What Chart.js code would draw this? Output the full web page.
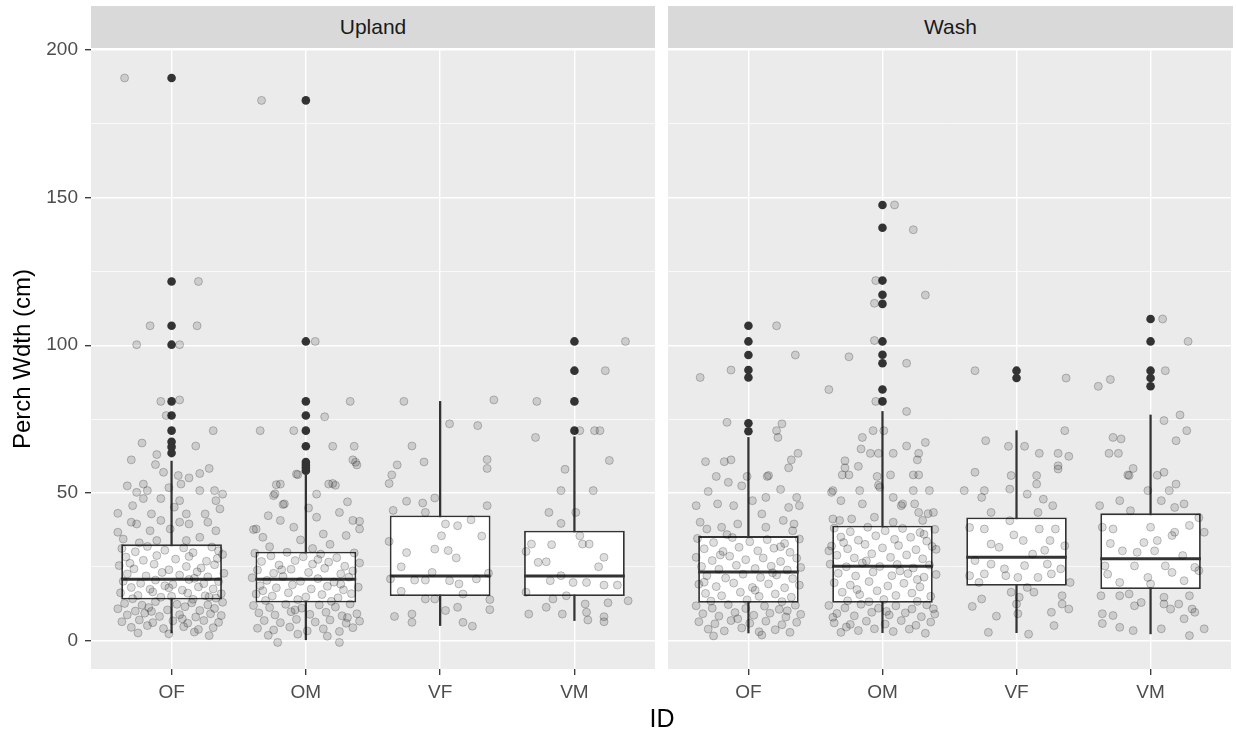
<!DOCTYPE html>
<html>
<head>
<meta charset="utf-8">
<script src="https://cdn.jsdelivr.net/npm/chart.js@4.4.1/dist/chart.umd.min.js"></script>
<style>
  body { margin: 0; background: #fff; width: 1236px; height: 736px; position: relative; overflow: hidden;
         font-family: "Liberation Sans", Arial, sans-serif; }
  .strip { position: absolute; top: 6px; height: 42px; background: #d9d9d9; color: #1a1a1a; font-size: 21px;
           display: flex; align-items: center; justify-content: center; }
  canvas { position: absolute; top: 0; }
  #xtitle { position: absolute; left: 91px; width: 1142px; top: 706px; text-align: center; font-size: 25px;
            line-height: 1; color: #000; }
</style>
</head>
<body>
<div class="strip" style="left:91px;width:564px">Upland</div>
<div class="strip" style="left:668px;width:565px">Wash</div>
<canvas id="upland" width="660" height="736" style="left:0"></canvas>
<canvas id="wash" width="576" height="736" style="left:660px"></canvas>
<div id="xtitle">ID</div>

<script>
const categories = ["OF", "OM", "VF", "VM"];
const yTicks = [0, 25, 50, 75, 100, 125, 150, 175, 200];
const yLabels = [0, 50, 100, 150, 200];

// box stats per category
const uplandLow = [2.6, 0.3, 5.1, 6.8];
const uplandQ1 = [13.9, 12.9, 15.1, 15.1];
const uplandMedian = [20.8, 20.8, 21.9, 21.9];
const uplandQ3 = [32.6, 30.1, 42.4, 37.2];
const uplandHigh = [60.8, 56.0, 81.0, 69.0];

const washLow = [2.6, 2.7, 2.7, 2.3];
const washQ1 = [12.8, 12.8, 18.6, 17.5];
const washMedian = [23.2, 25.2, 28.2, 27.7];
const washQ3 = [35.4, 38.9, 41.7, 43.1];
const washHigh = [68.8, 77.6, 71.1, 76.4];

const uplandOutliers = [
  [190.5, 121.6, 106.6, 100.2, 81.0, 76.2, 71.1, 67.3, 65.6, 63.5],
  [182.9, 101.3, 81.0, 76.2, 71.1, 65.8, 60.5, 59.5, 58.5, 57.5],
  [],
  [101.3, 91.4, 81.0, 71.1]
];
const washOutliers = [
  [106.6, 101.3, 96.7, 91.6, 89.1, 73.6, 70.9],
  [147.5, 139.8, 121.9, 117.1, 114.0, 101.3, 96.8, 93.9, 85.0, 81.0],
  [91.4, 88.9],
  [108.9, 101.3, 91.4, 88.9, 86.1]
];

// jittered raw points: [horizontal jitter, value]
const uplandOF = [
  [-0.35,190.5],[0.20,121.6],[-0.16,106.6],[0.19,106.6],[-0.26,100.2],[0.06,100.2],[-0.08,81.0],[0.06,81.5],
  [-0.04,76.2],[0.31,71.1],[-0.22,66.9],[0.18,65.9],[-0.11,63.0],[-0.30,61.2],
  [-0.06,57.0],[0.05,55.9],[-0.21,53.0],[0.13,55.1],[0.21,56.6],[-0.26,50.2],[-0.18,50.8],[0.07,53.0],[0.21,50.8],
  [0.32,50.8],[0.38,49.6],[-0.29,45.7],[-0.21,48.1],[-0.08,48.1],[0.06,47.4],[0.33,47.4],[-0.40,43.1],[-0.15,42.9],
  [-0.08,40.7],[0.11,42.9],[0.25,42.9],[-0.26,39.5],[-0.30,40.1],[0.06,40.1],[0.13,39.5],[0.27,40.1],[-0.40,36.7],
  [-0.16,37.2],[-0.01,37.8],[0.21,35.0],[0.33,37.2],[-0.36,34.4],[-0.11,33.9],[0.11,33.9],[0.02,45.2],[-0.33,52.4],
  [0.28,58.3],[-0.12,59.6],[0.36,44.6],[-0.02,51.8],
  [-0.37,31.2],[-0.27,30.1],[-0.18,31.9],[-0.05,30.6],[0.09,31.4],[0.16,29.8],[0.30,31.7],[0.38,29.2],
  [-0.34,28.3],[-0.21,27.2],[-0.11,28.8],[0.03,27.6],[0.13,28.5],[0.26,26.9],[0.34,27.8],
  [-0.39,25.4],[-0.28,24.3],[-0.13,25.9],[-0.02,24.0],[0.11,25.1],[0.22,24.6],[0.32,25.7],
  [-0.33,22.6],[-0.19,21.9],[-0.07,23.1],[0.06,22.2],[0.19,23.3],[0.27,21.6],[0.39,22.8],
  [-0.36,20.1],[-0.23,19.4],[-0.12,20.5],[0.01,19.0],[0.13,20.7],[0.24,19.3],[0.35,20.0],
  [-0.30,18.0],[-0.16,17.4],[-0.05,18.6],[0.08,17.1],[0.20,18.2],[0.31,17.5],
  [-0.38,16.2],[-0.25,15.3],[-0.14,16.5],[0.00,15.0],[0.12,16.1],[0.25,15.2],[0.37,15.9],
  [-0.29,14.2],[-0.08,14.7],[0.16,14.0],[0.33,14.4],
  [-0.35,12.6],[-0.22,12.0],[-0.12,13.2],[0.04,12.3],[0.15,12.8],[0.27,12.1],[0.38,13.0],
  [-0.40,10.8],[-0.27,10.0],[-0.17,11.2],[-0.03,10.4],[0.10,11.5],[0.21,10.2],[0.32,10.9],
  [-0.33,8.7],[-0.20,9.3],[-0.09,8.2],[0.06,8.8],[0.18,8.0],[0.29,9.1],[0.37,8.5],
  [-0.37,6.4],[-0.24,7.0],[-0.14,6.1],[0.01,6.7],[0.12,5.9],[0.24,6.8],[0.35,6.2],
  [-0.30,4.5],[-0.18,5.1],[-0.06,4.1],[0.09,4.7],[0.20,3.8],[0.31,4.4],
  [-0.25,2.6],[-0.02,2.3],[0.17,2.9],[0.28,1.7],
  [-0.31,26.2],[0.17,21.1],[-0.02,17.9],[0.28,14.8],[-0.15,9.9],[0.35,30.4],[-0.24,33.1],[0.08,7.4]
];
const uplandOM = [
  [-0.33,182.9],[0.07,101.3],[0.33,81.0],[0.14,75.8],[-0.34,71.1],[-0.09,71.1],[0.20,65.8],[0.36,65.8],
  [0.35,61.2],[0.38,59.5],[-0.06,56.2],
  [-0.19,53.0],[-0.07,56.4],[0.17,53.0],[0.22,52.6],[-0.24,49.1],[-0.16,46.3],[0.08,49.6],[0.25,43.4],
  [-0.37,37.8],[-0.32,35.0],[-0.19,40.7],[-0.09,38.4],[0.13,36.1],[0.35,40.7],[0.40,37.8],[0.30,35.6],
  [0.08,41.8],[-0.23,49.7],[0.37,60.4],[-0.22,52.8],[0.20,53.2],[-0.17,46.1],[0.40,40.4],[-0.39,37.6],
  [0.02,44.9],[-0.28,42.3],[0.31,47.0],[-0.04,34.1],[0.18,32.6],
  [-0.38,29.6],[-0.26,28.7],[-0.14,29.9],[-0.02,28.4],[0.11,29.3],[0.23,28.1],[0.36,29.7],
  [-0.33,26.8],[-0.20,25.6],[-0.08,27.1],[0.05,25.9],[0.17,26.6],[0.29,25.2],[0.40,26.3],
  [-0.36,23.9],[-0.24,22.8],[-0.11,24.2],[0.02,23.1],[0.14,24.5],[0.26,22.6],[0.35,23.6],
  [-0.40,21.3],[-0.29,20.4],[-0.17,21.7],[-0.04,20.1],[0.09,21.0],[0.21,19.8],[0.32,21.5],
  [-0.34,18.6],[-0.22,17.9],[-0.10,18.9],[0.04,17.5],[0.16,18.4],[0.28,17.2],[0.39,18.1],
  [-0.37,15.8],[-0.25,15.1],[-0.13,16.2],[0.00,14.8],[0.12,15.6],[0.24,14.5],[0.34,15.9],
  [-0.30,13.6],[-0.06,13.9],[0.19,13.3],
  [-0.39,11.9],[-0.27,11.2],[-0.15,12.3],[-0.03,11.0],[0.10,12.1],[0.22,11.4],[0.33,12.4],
  [-0.35,9.4],[-0.23,8.7],[-0.11,9.8],[0.03,8.9],[0.15,9.6],[0.27,8.4],[0.38,9.1],
  [-0.31,6.8],[-0.19,6.1],[-0.07,7.2],[0.07,6.3],[0.18,7.0],[0.30,5.9],[0.40,6.6],
  [-0.36,4.2],[-0.24,3.6],[-0.12,4.6],[0.01,3.3],[0.13,4.0],[0.25,3.1],[0.35,4.4],
  [-0.28,1.8],[-0.06,2.2],[0.16,1.5],[-0.21,-0.6],[0.25,-0.6],
  [-0.18,24.0],[0.26,19.1],[-0.32,16.9],[0.09,27.5],[-0.08,10.4],[0.31,7.8],[-0.27,31.8],[0.05,31.2]
];
const uplandVF = [
  [-0.27,81.0],[0.40,81.5],[0.07,73.4],[0.28,72.8],[-0.21,65.9],[-0.32,59.5],[-0.12,60.5],[0.35,61.3],
  [0.35,58.3],[-0.36,56.1],[-0.38,53.2],[-0.25,47.2],[-0.13,46.6],[-0.04,48.3],[-0.11,43.4],[0.35,45.7],
  [0.04,39.5],[0.13,38.9],[0.23,40.9],[0.01,35.5],[0.31,35.4],[-0.25,29.8],[-0.04,31.0],[0.06,30.5],
  [0.12,28.0],[-0.29,25.0],[-0.06,23.1],[0.36,22.8],[-0.19,20.5],[-0.11,20.5],[0.07,20.3],[0.14,19.2],
  [0.27,20.9],[-0.29,16.7],[-0.11,14.1],[-0.04,14.1],[0.17,15.8],[0.37,13.9],[0.37,10.5],[0.04,10.2],
  [0.13,11.3],[-0.21,9.0],[-0.21,6.2],[0.17,6.2],[0.24,4.9],[-0.35,44.1],[-0.37,20.9],[-0.34,8.2],[-0.38,33.6]
];
const uplandVM = [
  [0.38,101.3],[0.23,91.4],[-0.28,81.0],[0.04,71.1],[0.15,71.1],[0.19,71.1],[-0.29,68.8],[0.26,61.0],[-0.07,58.0],
  [-0.10,50.8],[0.14,50.8],[-0.19,43.4],[0.01,43.4],[-0.10,39.7],[0.04,35.5],[0.11,32.7],[0.06,32.7],
  [-0.32,32.7],[-0.17,32.5],[-0.36,30.2],[0.22,28.2],[-0.27,26.5],[-0.21,26.7],[0.18,25.0],[-0.18,20.3],
  [-0.10,22.0],[-0.01,19.7],[0.09,19.7],[0.22,18.8],[0.32,18.8],[-0.36,16.4],[-0.16,14.1],[-0.06,15.2],
  [0.25,12.8],[0.40,13.5],[0.08,12.4],[-0.34,9.0],[-0.21,11.3],[-0.09,9.0],[0.09,9.6],[0.10,7.0],
  [0.22,8.1],[0.22,6.4]
];
const washOF = [
  [0.21,106.6],[0.35,96.7],[-0.13,91.6],[-0.36,89.1],[-0.16,73.9],[0.25,73.4],[0.21,71.1],[0.22,68.8],
  [0.37,63.4],[0.32,61.2],[0.30,58.5],[-0.32,60.6],[-0.18,60.6],[-0.13,61.2],[-0.24,55.6],[-0.01,55.6],[0.14,55.6],
  [-0.15,53.6],[0.15,55.9],[-0.39,45.7],[-0.23,46.3],[-0.11,45.7],[0.03,47.4],[0.13,48.5],[0.30,45.1],
  [0.36,48.5],[0.38,45.7],[0.10,42.9],[-0.36,40.1],[-0.31,37.8],[-0.20,38.4],[-0.08,39.5],[0.13,38.4],
  [0.26,40.7],[0.34,39.5],[0.33,37.2],[-0.30,50.5],[0.24,51.2],[-0.05,52.4],
  [-0.38,34.6],[-0.26,33.2],[-0.12,34.9],[0.01,33.5],[0.14,34.2],[0.27,32.9],[0.38,34.4],
  [-0.33,31.1],[-0.19,30.2],[-0.07,31.6],[0.07,30.4],[0.19,31.3],[0.31,29.9],
  [-0.39,28.2],[-0.27,27.1],[-0.14,28.6],[-0.02,27.4],[0.11,28.0],[0.24,26.8],[0.36,27.9],
  [-0.35,25.1],[-0.22,24.2],[-0.09,25.5],[0.05,24.4],[0.17,25.2],[0.29,23.9],[0.39,24.8],
  [-0.31,22.0],[-0.17,21.2],[-0.04,22.5],[0.09,21.4],[0.21,22.2],[0.33,21.0],
  [-0.37,19.1],[-0.24,18.3],[-0.11,19.5],[0.03,18.0],[0.15,19.2],[0.27,17.9],[0.38,18.8],
  [-0.32,16.0],[-0.20,15.2],[-0.06,16.4],[0.08,15.0],[0.20,15.8],[0.32,14.7],
  [-0.28,13.4],[-0.01,13.8],[0.25,13.2],
  [-0.39,11.8],[-0.27,11.0],[-0.15,12.2],[-0.02,10.9],[0.12,11.7],[0.23,10.6],[0.35,12.0],
  [-0.34,9.1],[-0.22,8.3],[-0.10,9.5],[0.04,8.6],[0.16,9.3],[0.28,8.0],[0.39,8.9],
  [-0.37,6.4],[-0.25,5.7],[-0.13,6.8],[0.01,5.9],[0.13,6.6],[0.25,5.4],[0.36,6.2],
  [-0.30,3.9],[-0.18,3.3],[-0.05,4.3],[0.08,3.0],[0.20,3.7],[0.31,2.8],[-0.26,1.6],[0.10,1.9],
  [-0.21,29.0],[0.18,23.0],[-0.33,19.8],[0.05,17.1],[-0.08,7.4],[0.29,10.1],[-0.16,35.9],[0.24,31.8]
];
const washOM = [
  [0.09,147.5],[0.23,139.1],[-0.05,121.9],[0.32,117.0],[-0.06,114.2],[-0.06,101.6],[-0.25,96.1],[0.18,93.9],
  [-0.40,85.0],[-0.05,81.0],[0.18,77.6],[-0.07,71.1],[0.01,71.1],[-0.15,68.8],[0.32,67.1],[0.18,65.9],
  [-0.16,64.9],[-0.09,63.4],[-0.03,63.4],[0.08,63.4],[0.27,63.4],[0.26,61.2],[-0.28,60.9],[-0.28,58.5],
  [-0.18,59.0],[-0.30,56.1],[-0.25,56.1],[-0.04,55.6],[0.06,56.1],[0.23,56.1],[0.27,56.1],
  [-0.02,51.9],[0.08,48.5],[0.23,50.8],[0.35,50.8],[-0.37,50.8],[-0.15,46.3],[0.15,46.3],[0.27,43.4],
  [0.38,43.4],[-0.32,40.7],[-0.23,41.2],[-0.06,41.8],[0.08,40.1],[0.30,40.7],[-0.38,50.2],[-0.31,47.4],
  [-0.17,50.8],[-0.03,52.6],[0.14,45.7],[0.24,46.3],[-0.37,41.2],[0.34,43.0],[-0.40,30.4],[0.40,30.9],
  [-0.36,38.1],[-0.24,36.9],[-0.11,38.4],[0.02,37.2],[0.15,38.0],[0.28,36.6],[0.39,37.7],
  [-0.31,35.1],[-0.18,34.0],[-0.05,35.5],[0.09,34.3],[0.21,35.0],[0.33,33.7],
  [-0.38,32.0],[-0.26,31.1],[-0.13,32.6],[0.00,31.4],[0.12,32.2],[0.25,30.8],[0.37,31.9],
  [-0.34,28.9],[-0.21,28.0],[-0.08,29.4],[0.06,28.2],[0.18,29.0],[0.30,27.7],
  [-0.39,25.9],[-0.27,25.0],[-0.15,26.3],[-0.02,25.1],[0.11,25.8],[0.23,24.6],[0.35,25.6],
  [-0.33,22.8],[-0.20,21.9],[-0.07,23.2],[0.07,22.0],[0.19,22.7],[0.31,21.5],[0.40,22.4],
  [-0.36,19.6],[-0.24,18.8],[-0.10,20.0],[0.04,18.5],[0.16,19.4],[0.28,18.2],
  [-0.30,16.4],[-0.17,15.6],[-0.04,16.9],[0.10,15.3],[0.22,16.1],[0.36,15.0],
  [-0.26,13.5],[0.01,13.9],[0.26,13.3],
  [-0.40,11.9],[-0.28,11.1],[-0.16,12.3],[-0.03,11.0],[0.10,11.8],[0.22,10.7],[0.33,12.1],
  [-0.34,9.2],[-0.21,8.4],[-0.08,9.6],[0.05,8.7],[0.17,9.4],[0.29,8.1],[0.39,9.0],
  [-0.36,6.0],[-0.24,5.5],[-0.12,6.6],[0.02,5.6],[0.14,6.8],[0.25,5.2],[0.36,6.3],
  [-0.31,2.8],[-0.18,3.4],[-0.06,4.0],[0.08,3.1],[0.20,3.9],[0.32,2.5],[-0.37,7.9],[0.38,10.8],[-0.27,4.6],
  [-0.12,27.0],[0.26,20.7],[-0.19,17.3],[0.13,23.6],[0.31,36.0],[-0.29,33.2],[0.03,9.9],[-0.10,13.2]
];
const washVF = [
  [-0.31,91.4],[0.37,88.9],[0.36,71.1],[-0.23,67.7],[-0.06,65.8],[0.06,65.8],[0.17,63.4],[0.31,63.4],
  [0.39,62.4],[0.31,59.2],[0.31,58.1],[-0.31,57.0],[-0.04,55.9],[0.15,55.9],
  [-0.24,50.8],[-0.39,50.8],[-0.26,48.5],[-0.05,51.3],[0.08,49.6],[0.15,53.0],[0.20,47.9],[0.27,45.7],
  [-0.19,43.4],[0.16,43.4],[-0.35,38.3],[-0.24,37.8],[-0.05,40.6],[0.17,37.8],[0.29,37.8],
  [-0.19,32.7],[-0.13,31.6],[0.05,33.9],[0.25,33.9],[0.36,32.1],[-0.31,27.1],[-0.19,25.9],[-0.09,24.3],
  [0.06,25.4],[0.23,25.9],[0.33,24.3],[-0.35,22.0],[-0.24,22.6],[-0.08,22.0],[0.01,21.4],[0.16,21.4],
  [0.26,22.6],[-0.28,19.7],[0.08,18.0],[0.40,19.7],[-0.26,14.1],[-0.04,16.4],[0.02,14.7],[0.13,16.4],
  [0.34,15.2],[0.26,9.6],[0.34,12.4],[0.39,10.7],[0.00,12.4],[0.01,9.1],[0.28,5.1],[-0.21,2.8],[0.09,2.2],
  [-0.15,8.3],[-0.33,11.6],[0.12,29.3],[-0.02,35.8],[0.21,30.6]
];
const washVM = [
  [0.09,108.9],[0.28,101.3],[0.11,91.4],[-0.39,86.1],[-0.30,88.4],[0.10,74.5],[0.22,76.4],[0.27,71.1],
  [0.19,67.7],[-0.28,68.8],[-0.22,68.3],[-0.31,63.4],[-0.24,63.4],[-0.13,58.3],[-0.17,56.1],[0.05,56.0],[0.10,57.0],
  [-0.16,55.9],[0.19,53.0],[0.14,50.8],[0.08,47.4],[-0.23,47.4],[-0.38,45.7],[0.25,46.3],[-0.02,50.8],
  [-0.15,44.0],[0.18,45.1],[-0.36,38.4],[-0.28,37.8],[0.00,38.4],[0.18,36.7],[0.29,39.0],[0.40,36.7],
  [0.05,33.9],[0.16,35.6],[-0.21,30.4],[-0.10,29.9],[0.03,30.4],[-0.34,25.3],[-0.12,25.3],[0.11,25.3],
  [0.33,24.8],[-0.32,22.5],[-0.23,19.7],[-0.02,21.4],[0.16,23.1],[0.25,20.3],[0.36,23.7],[-0.37,15.2],
  [-0.23,15.2],[-0.16,15.8],[0.00,19.2],[0.10,14.7],[0.29,15.2],[-0.12,11.8],[-0.07,12.9],[0.10,12.4],
  [0.15,10.7],[0.21,12.4],[0.31,10.7],[0.33,9.6],[-0.36,9.1],[-0.28,8.5],[-0.36,5.8],[-0.23,4.5],
  [-0.13,3.4],[0.08,4.0],[0.25,7.4],[0.29,1.7],[0.40,4.0],[-0.05,33.2],[0.24,28.8],[-0.30,32.9],[0.36,41.6]
];

const BOX_W = 0.75;
const FONT = '"Liberation Sans", Arial, sans-serif';
Chart.defaults.font.family = FONT;

// grey panel background like ggplot
const panelBg = {
  id: "panelBg",
  beforeDraw(chart) {
    const { ctx, chartArea: a } = chart;
    ctx.save();
    ctx.fillStyle = "#ebebeb";
    ctx.fillRect(a.left, a.top, a.right - a.left, a.bottom - a.top);
    ctx.restore();
  }
};

function makePanel(id, low, q1, med, q3, high, outliers, jitter, first) {
  const xs = categories.map((c, i) => i + 1);
  const points = [];
  jitter.forEach((grp, i) => grp.forEach(p => points.push({ x: i + 1 + p[0], y: p[1] })));
  const outPts = [];
  outliers.forEach((grp, i) => grp.forEach(v => outPts.push({ x: i + 1, y: v })));

  return new Chart(document.getElementById(id), {
    type: "scatter",
    data: {
      datasets: [
        { type: "scatter", data: points, order: 0, pointRadius: 4,
          backgroundColor: "rgba(0,0,0,0.13)", borderColor: "rgba(0,0,0,0.22)", borderWidth: 1 },
        { type: "scatter", data: outPts, order: 1, pointRadius: 4.3,
          backgroundColor: "#333", borderWidth: 0 },
        { type: "scatter", data: xs.map((x, i) => ({ x, y: med[i] })), order: 2,
          pointStyle: "line", borderColor: "#333", borderWidth: 3,
          pointRadius: ctx => {
            const s = ctx.chart.scales.x;
            return s.getPixelForValue(1 + BOX_W / 2) - s.getPixelForValue(1);
          } },
        { type: "bar", data: xs.map((x, i) => ({ x, y: [q1[i], q3[i]] })), order: 3,
          grouped: false, barPercentage: BOX_W, categoryPercentage: 1,
          backgroundColor: "#fff", borderColor: "#333", borderWidth: 1.8, borderSkipped: false },
        { type: "bar", data: xs.map((x, i) => ({ x, y: [low[i], high[i]] })), order: 4,
          grouped: false, barPercentage: 1, categoryPercentage: 1, maxBarThickness: 1.6,
          backgroundColor: "#333", borderWidth: 0 }
      ]
    },
    options: {
      responsive: false,
      animation: false,
      events: [],
      layout: { padding: first ? { top: 49, right: 5, left: 0, bottom: 0 } : { top: 49, right: 3, left: 8, bottom: 0 } },
      plugins: { legend: { display: false }, tooltip: { enabled: false } },
      scales: {
        x: {
          type: "linear", min: 0.4, max: 4.6, offset: false, bounds: "data",
          afterBuildTicks: s => { s.ticks = xs.map(v => ({ value: v })); },
          afterFit: s => { s.height = 67; },
          ticks: { autoSkip: false, maxRotation: 0, padding: 6, color: "#4d4d4d", font: { size: 19 },
                   callback: v => categories[v - 1] },
          grid: { offset: false, color: "#fff", lineWidth: 1.4, tickColor: "#333", tickLength: 6, tickWidth: 1.3 },
          border: { display: false }
        },
        y: {
          type: "linear", min: -9.6, max: 200.3, bounds: "data",
          afterBuildTicks: s => { s.ticks = yTicks.map(v => ({ value: v })); },
          afterFit: s => { s.width = first ? 91 : 0; },
          ticks: { display: first, padding: 7, color: "#4d4d4d", font: { size: 19 },
                   callback: v => yLabels.includes(v) ? String(v) : "" },
          grid: {
            offset: false,
            color: "#fff",
            lineWidth: c => yLabels.includes(c.tick.value) ? 1.4 : 0.7,
            drawTicks: first,
            tickLength: 6,
            tickWidth: 1.3,
            tickColor: c => yLabels.includes(c.tick.value) ? "#333" : "rgba(0,0,0,0)"
          },
          border: { display: false },
          title: { display: first, text: "Perch Wdth (cm)", color: "#000", font: { size: 24 },
                   padding: { top: 9, bottom: 0 } }
        }
      }
    },
    plugins: [panelBg]
  });
}

makePanel("upland", uplandLow, uplandQ1, uplandMedian, uplandQ3, uplandHigh, uplandOutliers,
  [uplandOF, uplandOM, uplandVF, uplandVM], true);
makePanel("wash", washLow, washQ1, washMedian, washQ3, washHigh, washOutliers,
  [washOF, washOM, washVF, washVM], false);
</script>
</body>
</html>
